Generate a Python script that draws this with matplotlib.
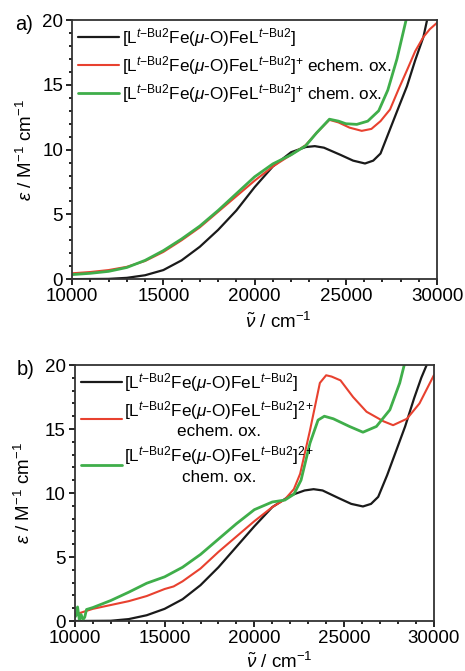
import numpy as np
import matplotlib
matplotlib.use('Agg')
import matplotlib.pyplot as plt
from matplotlib.ticker import MultipleLocator

plt.rcParams['font.family'] = ['Liberation Sans', 'DejaVu Sans']
plt.rcParams['mathtext.fontset'] = 'custom'
plt.rcParams['mathtext.rm'] = 'Liberation Sans'
plt.rcParams['mathtext.it'] = 'Liberation Sans:italic'
plt.rcParams['font.size'] = 13.5

# ── panel a) neutral vs. mono-oxidised ──
xa_black = [10000, 12000, 13000, 14000, 15000, 16000, 17000, 18000, 19000, 20000,
            21000, 22000, 22800, 23300, 23800, 24700, 25400, 26050, 26500, 26900,
            27400, 27900, 28350, 28800, 29250, 29450]
ya_black = [0.0, 0.02, 0.1, 0.3, 0.7, 1.45, 2.5, 3.8, 5.3, 7.1,
            8.7, 9.8, 10.2, 10.27, 10.15, 9.6, 9.15, 8.93, 9.15, 9.7,
            11.5, 13.3, 14.9, 16.9, 18.7, 20.0]
xa_red = [10000, 11000, 12000, 13000, 14000, 15000, 16000, 17000, 18000, 19000, 20000,
          21000, 22000, 22800, 23400, 24100, 24600, 25200, 25870, 26400, 26900, 27420,
          27900, 28340, 28800, 29250, 29600, 30000]
ya_red = [0.45, 0.55, 0.7, 0.95, 1.4, 2.1, 3.0, 4.0, 5.2, 6.4, 7.6,
          8.7, 9.6, 10.35, 11.3, 12.3, 12.1, 11.7, 11.45, 11.6, 12.2, 13.1,
          14.7, 16.1, 17.6, 18.7, 19.3, 19.8]
xa_green = [10000, 11000, 12000, 13000, 14000, 15000, 16000, 17000, 18000, 19000, 20000,
            21000, 22000, 22800, 23400, 24100, 24600, 25000, 25600, 26200, 26800, 27300,
            27800, 28300]
ya_green = [0.35, 0.45, 0.6, 0.9, 1.45, 2.2, 3.1, 4.1, 5.3, 6.6, 7.9,
            8.9, 9.6, 10.3, 11.3, 12.35, 12.2, 12.0, 11.95, 12.2, 13.0, 14.6,
            17.0, 20.0]

# ── panel b) neutral vs. di-oxidised ──
xb_black = [10000, 12000, 13000, 14000, 15000, 16000, 17000, 18000, 19000, 20000,
            21000, 22000, 22800, 23300, 23800, 24700, 25400, 26050, 26500, 26900,
            27400, 27900, 28400, 28900, 29300, 29600]
yb_black = [0.0, 0.02, 0.15, 0.45, 0.95, 1.7, 2.8, 4.2, 5.8, 7.4,
            8.9, 9.8, 10.2, 10.3, 10.2, 9.6, 9.15, 8.95, 9.15, 9.7,
            11.4, 13.3, 15.2, 17.4, 19.0, 20.0]
xb_red = [10000, 11000, 12000, 13000, 14000, 15000, 15500, 16000, 17000, 18000, 19000,
          20000, 21000, 21700, 22200, 22550, 23100, 23650, 24000, 24300, 24800, 25500,
          26250, 27200, 27730, 28500, 29200, 30000]
yb_red = [0.5, 0.95, 1.25, 1.55, 1.95, 2.5, 2.7, 3.1, 4.1, 5.4, 6.6,
          7.8, 8.9, 9.5, 10.3, 11.5, 14.9, 18.6, 19.2, 19.1, 18.8, 17.5,
          16.35, 15.6, 15.3, 15.8, 17.0, 19.2]
xb_green = [10000, 10100, 10150, 10250, 10350, 10450, 10550, 10650, 11000, 12000, 13000,
            14000, 15000, 16000, 17000, 18000, 19000, 20000, 21000, 21700, 22200, 22600,
            23100, 23550, 23900, 24400, 25300, 26050, 26800, 27550, 28100, 28350]
yb_green = [0.3, 0.5, 1.1, 0.1, 0.5, 0.1, 0.3, 0.9, 1.05, 1.6, 2.25,
            2.95, 3.45, 4.2, 5.2, 6.4, 7.6, 8.7, 9.3, 9.45, 9.9, 11.0,
            13.9, 15.7, 16.0, 15.8, 15.2, 14.75, 15.2, 16.5, 18.6, 20.0]

BASE = r'[L$^{t\mathrm{-Bu2}}$Fe($\mu$-O)FeL$^{t\mathrm{-Bu2}}$]'
labels_a = [BASE, BASE + r'$^{+}$ echem. ox.', BASE + r'$^{+}$ chem. ox.']
labels_b = [BASE, BASE + '$^{2+}$\nechem. ox.', BASE + '$^{2+}$\nchem. ox.']

COL = {'black': '#1a1a1a', 'red': '#e8412f', 'green': '#3fae4a'}


def style(ax, yl, xl):
    ax.set_xlim(10000, 30000); ax.set_ylim(0, 20)
    ax.xaxis.set_major_locator(MultipleLocator(5000)); ax.xaxis.set_minor_locator(MultipleLocator(1000))
    ax.yaxis.set_major_locator(MultipleLocator(5)); ax.yaxis.set_minor_locator(MultipleLocator(1))
    ax.tick_params(which='both', direction='out', top=False, right=False, width=1.2)
    ax.tick_params(which='major', length=4, pad=2.5)
    ax.tick_params(which='minor', length=2.5)
    for s in ax.spines.values():
        s.set_linewidth(1.3); s.set_color('#333333')
    ax.set_ylabel(r'$\varepsilon$ / M$^{-1}$ cm$^{-1}$')
    ax.yaxis.set_label_coords(yl, 0.5)
    ax.set_xlabel(r'$\tilde{\nu}$ / cm$^{-1}$')
    ax.xaxis.set_label_coords(*xl)


fig = plt.figure(figsize=(4.65, 6.71), dpi=100)
ax1 = fig.add_axes([0.155, 0.584, 0.785, 0.386])
ax2 = fig.add_axes([0.161, 0.0745, 0.772, 0.3815])

kw = dict(solid_joinstyle='round', solid_capstyle='round')
ax1.plot(xa_black, ya_black, color=COL['black'], lw=1.6, label=labels_a[0], **kw)
ax1.plot(xa_red, ya_red, color=COL['red'], lw=1.5, label=labels_a[1], **kw)
ax1.plot(xa_green, ya_green, color=COL['green'], lw=2.0, label=labels_a[2], **kw)
style(ax1, -0.10, (0.565, -0.125))
ax1.legend(loc='upper left', frameon=False, handlelength=2.4, handletextpad=0.15,
           labelspacing=0.3, borderaxespad=0.0, borderpad=0.35, fontsize=12.3)
fig.text(0.032, 0.963, 'a)', fontsize=14.5, va='center')

ax2.plot(xb_black, yb_black, color=COL['black'], lw=1.6, label=labels_b[0], **kw)
ax2.plot(xb_red, yb_red, color=COL['red'], lw=1.5, label=labels_b[1], **kw)
ax2.plot(xb_green, yb_green, color=COL['green'], lw=2.0, label=labels_b[2], **kw)
style(ax2, -0.115, (0.57, -0.122))
leg = ax2.legend(loc='upper left', frameon=False, handlelength=2.4, handletextpad=0.15,
                 labelspacing=0.3, borderaxespad=0.0, borderpad=0.35, fontsize=12.3)
for t in leg.get_texts():
    t.set_multialignment('center')
fig.text(0.035, 0.449, 'b)', fontsize=14.5, va='center')

fig.savefig('out.png', dpi=100)
